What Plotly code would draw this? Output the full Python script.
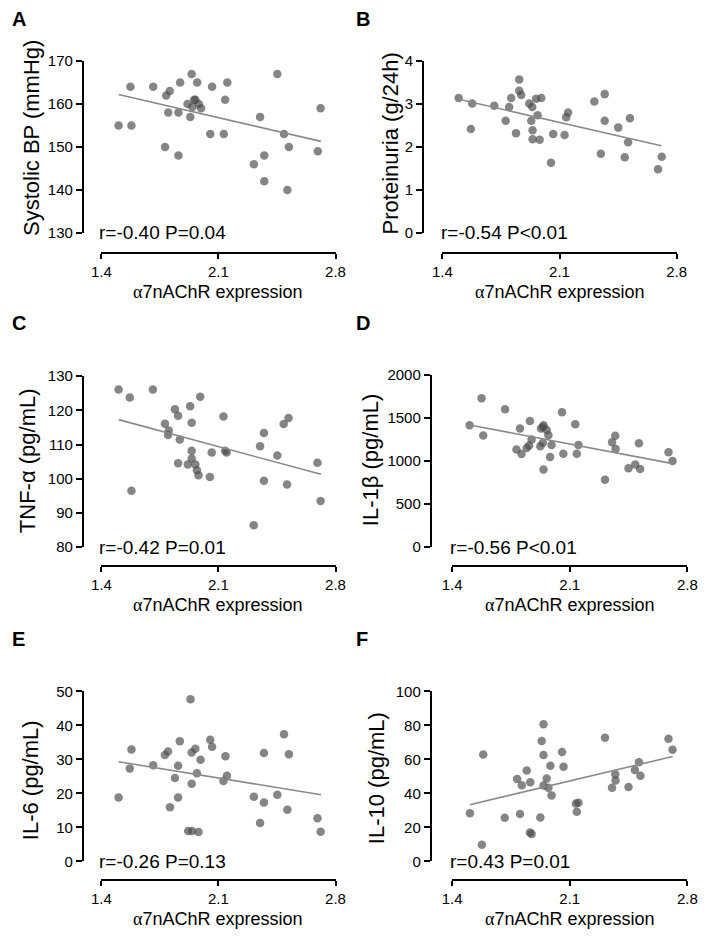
import plotly.graph_objects as go

# ---------------- data ----------------
x_A = [1.503, 1.574, 1.580, 1.710, 1.781, 1.809, 1.788, 1.800, 1.861, 1.861, 1.871, 1.940, 1.915,
       1.932, 1.944, 1.955, 1.962, 1.973, 1.983, 1.996, 2.051, 2.062, 2.132, 2.140, 2.153, 2.312,
       2.349, 2.374, 2.374, 2.452, 2.492, 2.512, 2.521, 2.694, 2.711]
y_A = [155, 164, 155, 164, 150, 163, 162, 158, 158, 148, 165, 167, 160,
       157, 159.3, 161, 161, 165, 160, 159, 153, 164, 153, 161, 165, 146,
       157, 148, 142, 167, 153, 140, 150, 149, 159]

x_B = [1.497, 1.578, 1.570, 1.710, 1.778, 1.799, 1.811, 1.840, 1.859, 1.859, 1.871, 1.919, 1.937,
       1.931, 1.939, 1.939, 1.960, 1.969, 1.981, 1.991, 2.049, 2.062, 2.130, 2.140, 2.151, 2.308,
       2.347, 2.370, 2.370, 2.451, 2.490, 2.510, 2.521, 2.689, 2.711]
y_B = [3.14, 3.01, 2.42, 2.96, 2.61, 2.93, 3.14, 2.32, 3.57, 3.31, 3.21, 3.01, 2.93,
       2.61, 2.39, 2.18, 3.12, 2.74, 2.17, 3.14, 1.63, 2.30, 2.28, 2.69, 2.80, 3.06,
       1.84, 2.61, 3.23, 2.45, 1.76, 2.11, 2.67, 1.48, 1.77]

x_C = [1.503, 1.570, 1.580, 1.708, 1.780, 1.803, 1.799, 1.840, 1.859, 1.859, 1.869, 1.917, 1.931,
       1.940, 1.940, 1.940, 1.962, 1.971, 1.981, 1.991, 2.049, 2.060, 2.130, 2.140, 2.149, 2.311,
       2.349, 2.372, 2.372, 2.452, 2.490, 2.519, 2.510, 2.692, 2.711]
y_C = [126.1, 123.8, 96.5, 126.1, 116.1, 114.1, 112.8, 120.3, 118.4, 104.5, 111.5, 104.2, 121.2,
       116.4, 108.2, 105.9, 104.2, 102.5, 101.0, 124.0, 100.5, 107.7, 118.2, 108.2, 107.7, 86.4,
       109.5, 113.4, 99.4, 106.8, 116.0, 117.8, 98.3, 104.7, 93.5]

x_D = [1.504, 1.575, 1.585, 1.715, 1.783, 1.804, 1.813, 1.844, 1.858, 1.863, 1.873, 1.925, 1.929,
       1.940, 1.944, 1.944, 1.940, 1.963, 1.973, 1.983, 1.992, 2.062, 2.054, 2.133, 2.142, 2.152,
       2.310, 2.352, 2.371, 2.373, 2.450, 2.490, 2.512, 2.519, 2.688, 2.712]
y_D = [1417, 1733, 1299, 1604, 1135, 1379, 1082, 1154, 1181, 1467, 1253, 1173, 1379,
       1398, 903, 1417, 1215, 1364, 1303, 1048, 1188, 1086, 1570, 1429, 1086, 1188,
       783, 1219, 1295, 1143, 918, 960, 1208, 910, 1105, 1002]

x_E = [1.503, 1.570, 1.580, 1.710, 1.780, 1.799, 1.810, 1.840, 1.859, 1.859, 1.869, 1.933, 1.940,
       1.940, 1.919, 1.942, 1.962, 1.971, 1.981, 1.993, 2.051, 2.062, 2.130, 2.142, 2.151, 2.312,
       2.349, 2.372, 2.372, 2.452, 2.492, 2.512, 2.521, 2.692, 2.711]
y_E = [18.8, 27.3, 32.9, 28.3, 31.3, 32.3, 15.9, 24.5, 28.1, 18.8, 35.3, 47.7, 32.0,
       22.8, 8.9, 8.9, 33.1, 25.9, 8.6, 29.9, 35.8, 33.7, 23.6, 30.9, 25.2, 19.0,
       11.3, 31.9, 17.3, 19.6, 37.4, 15.2, 31.5, 12.7, 8.7]

x_F = [1.506, 1.577, 1.585, 1.713, 1.787, 1.804, 1.815, 1.844, 1.865, 1.863, 1.873, 1.925, 1.933,
       1.944, 1.944, 1.944, 1.963, 1.973, 1.985, 1.992, 2.054, 2.063, 2.137, 2.152, 2.142, 2.310,
       2.352, 2.373, 2.371, 2.450, 2.488, 2.512, 2.521, 2.688, 2.712]
y_F = [28.3, 9.8, 62.9, 25.6, 48.5, 27.9, 44.8, 53.5, 46.5, 16.9, 16.0, 25.8, 70.8,
       80.6, 62.5, 44.6, 48.8, 43.3, 56.3, 38.8, 64.4, 55.6, 34.0, 34.4, 29.2, 72.7,
       43.3, 47.5, 51.3, 43.8, 53.7, 58.3, 50.4, 72.1, 65.6]

# regression line end points
fit_x = {"A": [1.503, 2.713], "B": [1.497, 2.709], "C": [1.503, 2.713],
         "D": [1.504, 2.713], "E": [1.503, 2.713], "F": [1.506, 2.713]}
fit_y = {"A": [162.2, 151.3], "B": [3.11, 2.03], "C": [117.3, 101.3],
         "D": [1421, 971], "E": [29.3, 19.6], "F": [33.3, 61.7]}

panel_letters = ["A", "B", "C", "D", "E", "F"]
y_titles = ["Systolic BP (mmHg)", "Proteinuria (g/24h)", "TNF-α (pg/mL)",
            "IL-1β (pg/mL)", "IL-6 (pg/mL)", "IL-10 (pg/mL)"]
stats_text = ["r=-0.40 P=0.04", "r=-0.54 P<0.01", "r=-0.42 P=0.01",
              "r=-0.56 P<0.01", "r=-0.26 P=0.13", "r=0.43 P=0.01"]
y_ranges = [[130, 170], [0, 4], [80, 130], [0, 2000], [0, 50], [0, 100]]
y_ticks = [[130, 140, 150, 160, 170], [0, 1, 2, 3, 4], [80, 90, 100, 110, 120, 130],
           [0, 500, 1000, 1500, 2000], [0, 10, 20, 30, 40, 50], [0, 20, 40, 60, 80, 100]]
x_ticks = [1.4, 2.1, 2.8]
x_title = "<span style=\"font-family:'Liberation Serif', serif\">α</span>7nAChR expression"

xs = [x_A, x_B, x_C, x_D, x_E, x_F]
ys = [y_A, y_B, y_C, y_D, y_E, y_F]

# ---------------- layout geometry (pixels) ----------------
W, H = 708, 939
# (x-domain left, right, y-domain top, bottom, y-axis line x, x-axis line y, ytitle x, ytitle y, letter y)
geo = [
    (94, 335, 53, 228, 75, 248, 22, 131, 10),
    (445, 686, 53, 228, 425, 248, 392, 137, 10),
    (94, 335, 374, 548, 75, 567, 18, 460, 320),
    (455, 697, 373, 548, 433, 567, 371, 460, 320),
    (94, 335, 695, 868, 75, 887, 21, 785, 642),
    (455, 697, 695, 868, 433, 887, 378, 783, 642),
]

FONT = "Arial, 'Liberation Sans', Helvetica, sans-serif"
fig = go.Figure()
annotations = []
layout_axes = {}

for i in range(6):
    xl, xr, yt, yb, yax, xay, ytx, yty, ly = geo[i]
    n = "" if i == 0 else str(i + 1)
    xa, ya = "x" + n, "y" + n
    fig.add_trace(go.Scatter(
        x=xs[i], y=ys[i], mode="markers", xaxis=xa, yaxis=ya,
        marker=dict(size=8.5, color="rgba(75,75,75,0.68)", line=dict(width=0)),
        cliponaxis=False, showlegend=False, hoverinfo="skip"))
    key = panel_letters[i]
    fig.add_trace(go.Scatter(
        x=fit_x[key], y=fit_y[key], mode="lines", xaxis=xa, yaxis=ya,
        line=dict(color="#8a8a8a", width=1.6), cliponaxis=False,
        showlegend=False, hoverinfo="skip"))

    layout_axes["xaxis" + n] = dict(
        domain=[xl / W, xr / W], range=[1.4, 2.8], anchor="free", position=1 - xay / H,
        showline=True, linewidth=2, linecolor="black", ticks="outside", ticklen=5,
        tickwidth=1.5, tickcolor="black", tickvals=x_ticks, ticktext=["1.4", "2.1", "2.8"],
        showgrid=False, zeroline=False, tickfont=dict(size=15, color="black", family=FONT))
    layout_axes["yaxis" + n] = dict(
        domain=[1 - yb / H, 1 - yt / H], range=y_ranges[i], anchor="free", position=yax / W,
        showline=True, linewidth=2, linecolor="black", ticks="outside", ticklen=6,
        tickwidth=1.5, tickcolor="black", tickvals=y_ticks[i],
        showgrid=False, zeroline=False, tickfont=dict(size=15, color="black", family=FONT))

    annotations.append(dict(
        text=y_titles[i], textangle=-90, xref="paper", yref="paper",
        x=ytx / W, y=1 - yty / H, xanchor="center", yanchor="middle", showarrow=False,
        font=dict(size=22, color="black", family=FONT)))
    annotations.append(dict(
        text=x_title, xref="paper", yref="paper",
        x=(xl + xr) / 2 / W, y=1 - (xay + 40) / H, xanchor="center", yanchor="middle",
        showarrow=False, font=dict(size=18, color="black", family=FONT)))
    annotations.append(dict(
        text=stats_text[i], xref="paper", yref="paper",
        x=(xl - 4) / W, y=1 - yb / H, xanchor="left", yanchor="middle",
        showarrow=False, font=dict(size=19, color="black", family=FONT)))
    annotations.append(dict(
        text="<b>" + panel_letters[i] + "</b>", xref="paper", yref="paper",
        x=(0 if i % 2 == 0 else 354) / W, y=1 - ly / H, xanchor="left", yanchor="middle",
        showarrow=False, font=dict(size=20, color="black", family=FONT)))

fig.update_layout(
    width=W, height=H, margin=dict(l=0, r=0, t=0, b=0),
    paper_bgcolor="white", plot_bgcolor="white",
    font=dict(family=FONT, color="black"),
    annotations=annotations, **layout_axes)

fig.write_html(
    "out.html",
    config={"displayModeBar": False},
    post_script="document.body.style.margin='0px';document.body.style.overflow='hidden';")
